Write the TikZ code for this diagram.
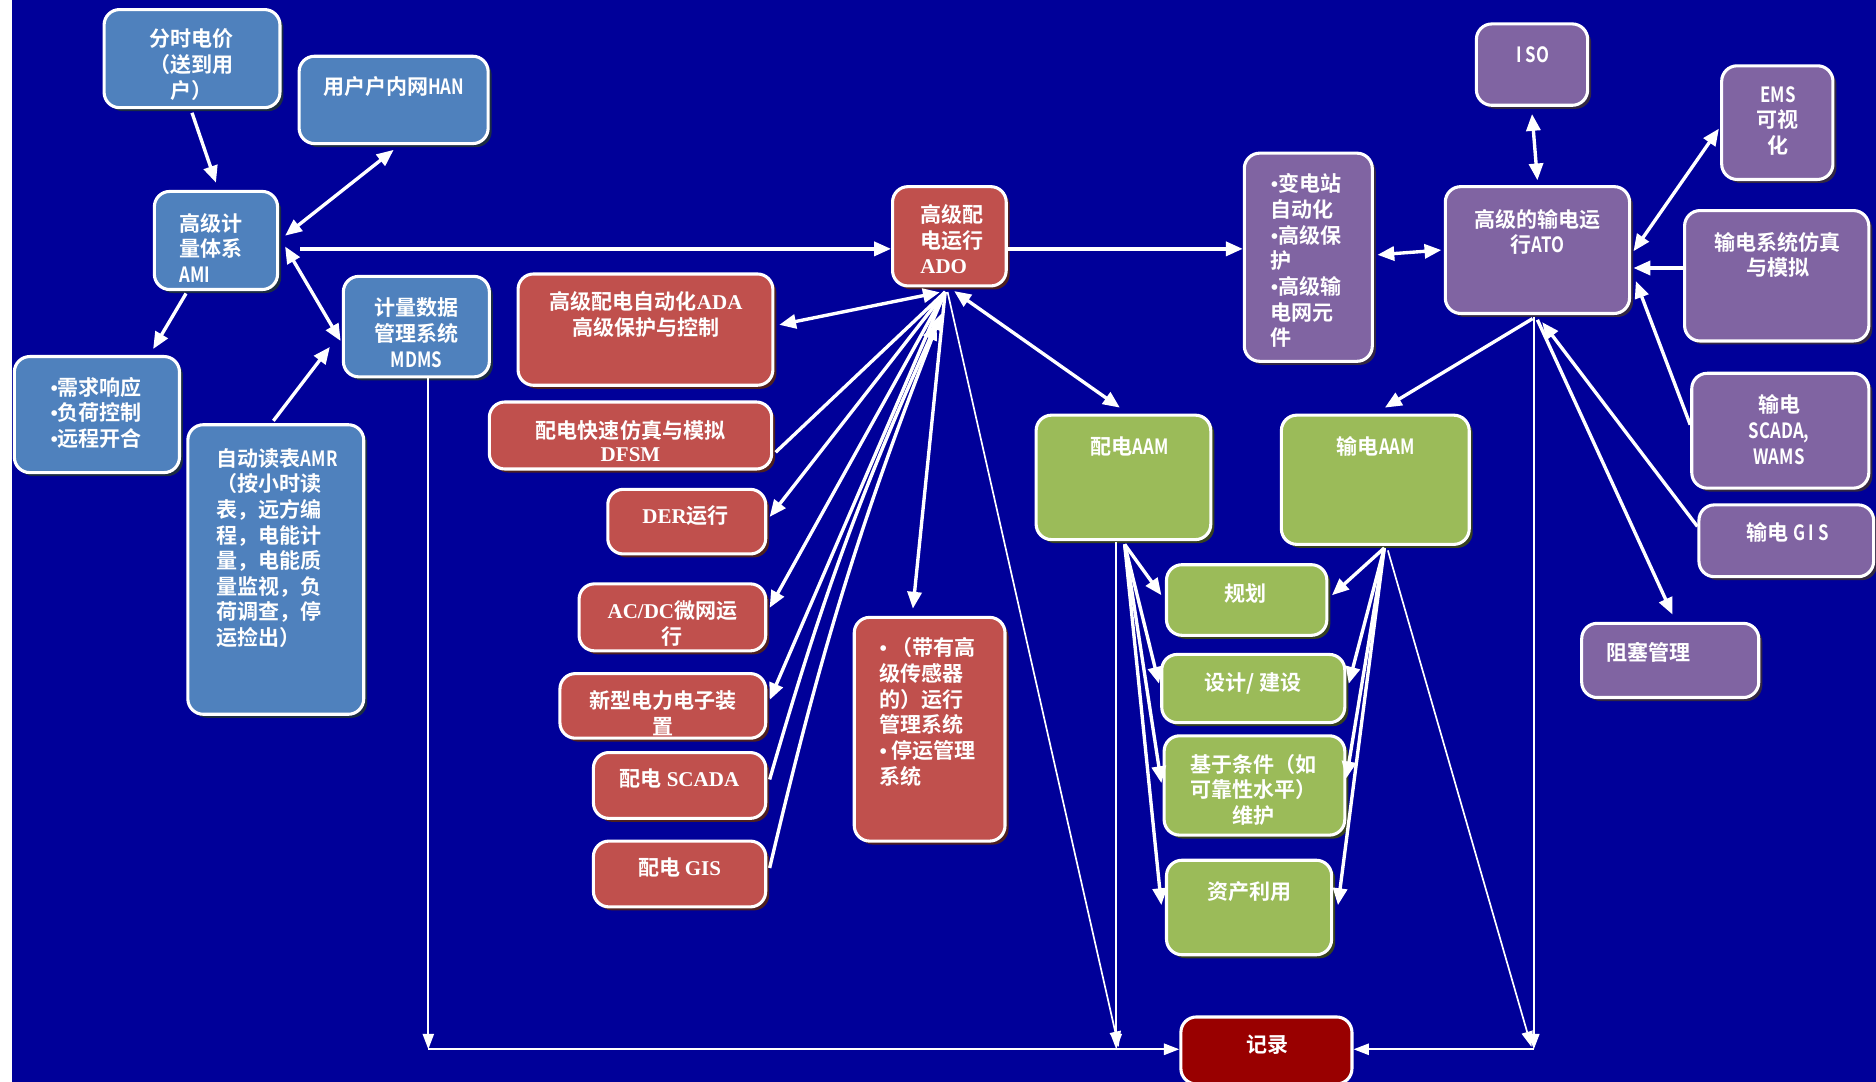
\documentclass[tikz,border=0pt]{standalone}
\usepackage{fontspec}
\setmainfont{Noto Sans CJK SC}[BoldFont={Noto Sans CJK SC Bold}]
\newfontfamily\tnr{Liberation Serif}[BoldFont={Liberation Serif Bold}]
\usepackage{graphicx}
\usetikzlibrary{arrows.meta,fit,shadows,calc}
\definecolor{navy}{RGB}{0,0,153}
\definecolor{boxblue}{RGB}{79,129,189}
\definecolor{boxred}{RGB}{192,80,77}
\definecolor{boxpurple}{RGB}{128,100,162}
\definecolor{boxgreen}{RGB}{155,187,89}
\definecolor{boxdark}{RGB}{153,0,0}
\newcommand\nar[1]{\scalebox{0.8}[1]{#1}}
\newcommand\bul{{\tnr\bfseries •}}
\newcommand\mkbox[4]{\node[#2, fit={(#3) (#4)}] (#1) {};}
\tikzset{
  boxbase/.style={draw=white, line width=2.2pt, rounded corners=11pt, inner sep=0pt},
  bluebox/.style={boxbase, fill=boxblue, drop shadow={shadow xshift=2.5pt, shadow yshift=-2.5pt, fill=boxblue!35!black, opacity=1}},
  redbox/.style={boxbase, fill=boxred, drop shadow={shadow xshift=2.5pt, shadow yshift=-2.5pt, fill=boxred!40!black, opacity=1}},
  purplebox/.style={boxbase, fill=boxpurple, drop shadow={shadow xshift=2.5pt, shadow yshift=-2.5pt, fill=boxpurple!40!black, opacity=1}},
  greenbox/.style={boxbase, fill=boxgreen, drop shadow={shadow xshift=2.5pt, shadow yshift=-2.5pt, fill=boxgreen!35!black, opacity=1}},
  darkbox/.style={boxbase, fill=boxdark},
  txt/.style={text=white, font=\bfseries\fontsize{15}{18.3}\selectfont, align=center, inner sep=0pt},
  ltxt/.style={txt, align=left, anchor=west},
  ln/.style={draw=white, line width=2.4pt},
  arr/.style={ln, -{Triangle[length=12pt,width=10pt]}},
  darr/.style={ln, {Triangle[length=12pt,width=10pt]}-{Triangle[length=12pt,width=10pt]}},
  thinln/.style={draw=white, line width=1.2pt},
  tarr/.style={thinln, -{Triangle[length=11pt,width=8pt]}},
}
\begin{document}
\begin{tikzpicture}[x=0.03cm, y=-0.03cm]
\useasboundingbox (0,0) rectangle (1568,904);
\fill[white] (0,0) rectangle (10,904);
\fill[navy] (10,0) rectangle (1568,904);

% boxes
\mkbox{tou}{bluebox}{87,8}{234,90}
\mkbox{han}{bluebox}{250,47}{408,120}
\mkbox{ami}{bluebox}{129,160}{232,242}
\mkbox{mdms}{bluebox}{287,231}{409,315}
\mkbox{dr}{bluebox}{12,298}{150,395}
\mkbox{amr}{bluebox}{157,355}{304,597}
\mkbox{ado}{redbox}{746,156}{841,239}
\mkbox{ada}{redbox}{433,229}{646,322}
\mkbox{dfsm}{redbox}{409,336}{645,392}
\mkbox{der}{redbox}{508,409}{640,463}
\mkbox{acdc}{redbox}{484,488}{640,544}
\mkbox{new}{redbox}{468,563}{640,617}
\mkbox{sc}{redbox}{496,629}{640,684}
\mkbox{gis}{redbox}{496,703}{640,758}
\mkbox{ops}{redbox}{714,516}{840,703}
\mkbox{sub}{purplebox}{1040,128}{1147,302}
\mkbox{iso}{purplebox}{1234,20}{1327,88}
\mkbox{ato}{purplebox}{1208,156}{1362,262}
\mkbox{ems}{purplebox}{1439,55}{1532,150}
\mkbox{tsim}{purplebox}{1408,176}{1562,285}
\mkbox{tscada}{purplebox}{1414,312}{1562,408}
\mkbox{tgis}{purplebox}{1420,422}{1566,482}
\mkbox{cong}{purplebox}{1322,521}{1470,583}
\mkbox{dAAM}{greenbox}{866,347}{1012,451}
\mkbox{tAAM}{greenbox}{1071,347}{1228,455}
\mkbox{plan}{greenbox}{975,472}{1109,531}
\mkbox{design}{greenbox}{971,547}{1124,604}
\mkbox{cond}{greenbox}{973,615}{1124,698}
\mkbox{asset}{greenbox}{975,719}{1113,798}
\mkbox{rec}{darkbox}{987,850}{1130,906}

% helper coordinates
\coordinate (adoF) at (790,244);
\coordinate (cL) at (358,877);
\coordinate (cM) at (933,877);
\coordinate (cR) at (1282,877);
\coordinate (hY) at (251,208);
\coordinate (dF) at (940,455);
\coordinate (tF) at (1157,458);
\coordinate (atoF) at ($(ato.south)+(-3,2)$);
\coordinate (scTip) at (783,270);
\coordinate (gisTip) at (787,262);

% connectors (left / blue)
\draw[arr] ($(tou.south)+(0,3)$) -- ($(ami.north)+(0,-6)$);
\draw[darr] ($(ami.east)+(5,-4)$) -- ($(han.south)+(0,4)$);
\draw[arr] (hY) -- (hY -| ado.west);
\draw[darr] ($(ami.east)+(5,5)$) -- ($(mdms.west)+(-1,12)$);
\draw[arr] ($(ami.south)+(-25,2)$) -- ($(dr.north)+(47,-5)$);
\draw[arr] ($(amr.north)+(-2,-2)$) -- ($(mdms.west)+(-10,17)$);
\draw[tarr] ($(mdms.south)+(10,0)$) -- (cL);
\draw[tarr, line width=1.6pt] (cL) -- (cL -| rec.west);

% ADO connectors
\draw[arr] (ado.east |- hY) -- (sub.west |- hY);
\draw[darr] ($(ado.south)+(-8,4)$) -- ($(ada.east)+(4,-4)$);
\draw[darr] ($(ado.south)+(4,3)$) -- ($(dAAM.north)+(-3,-5)$);
\draw[ln] (adoF) -- ($(dfsm.east)+(2,14)$);
\draw[arr] (adoF) -- ($(der.east)+(2,-4)$);
\draw[arr] (adoF) -- ($(acdc.east)+(2,-8)$);
\draw[arr] (adoF) -- ($(new.east)+(2,-5)$);
\draw[arr] ($(sc.east)+(2,-5)$) to[bend left=4] (scTip);
\draw[arr] ($(gis.east)+(2,-5)$) to[bend left=4] (gisTip);
\draw[arr] (adoF) -- ($(ops.north)+(-14,-6)$);
\draw[tarr] ($(adoF)+(2,0)$) -- ($(cM)+(2,-2)$);

% AAM connectors
\draw[tarr] ($(dAAM.south)+(-6,1)$) -- (cM);
\draw[arr] (dF) -- ($(plan.west)+(-3,-4)$);
\draw[arr] (dF) -- ($(design.west)+(-1,-4)$);
\draw[arr] (dF) -- ($(cond.west)+(-1,-2)$);
\draw[arr] (dF) -- ($(asset.west)+(-3,-2)$);
\draw[arr] (tF) -- ($(plan.east)+(3,-4)$);
\draw[arr] (tF) -- ($(design.east)+(2,-4)$);
\draw[arr] (tF) -- ($(cond.east)+(0,-6)$);
\draw[arr] (tF) -- ($(asset.east)+(4,-2)$);
\draw[tarr] ($(tF)+(3,2)$) -- ($(cR)+(-2,-2)$);

% ATO connectors
\draw[tarr] (atoF) -- (cR);
\draw[tarr, line width=1.6pt] (cR) -- (cR -| rec.east);
\draw[darr] ($(iso.south)+(0,6)$) -- ($(ato.north)+(0,-4)$);
\draw[darr] ($(sub.east)+(3,-2)$) -- ($(ato.west)+(-2,0)$);
\draw[darr] ($(ato.east)+(2,1)$) -- ($(ems.west)+(-1,5)$);
\draw[arr] ($(tsim.west)+(0,-6.5)$) -- ($(ato.east)+(2,15)$);
\draw[arr] ($(tscada.west)+(0,-5)$) -- ($(ato.east)+(4,26)$);
\draw[arr] ($(tgis.west)+(0,-12)$) -- ($(ato.south)+(4,6)$);
\draw[arr] ($(ato.south)+(0,4)$) -- ($(cong.north)+(2,-6)$);
\draw[arr] ($(ato.south)+(-4,3)$) -- ($(tAAM.north)+(8,-5)$);

% texts
\node[txt] (touT) at (160,54) {分时电价\\（送到用\\户）};
\node[txt] (hanT) at (329,72) {用户户内网\nar{HAN}};
\node[ltxt] (amiT) at (150,207) {高级计\\量体系\\\nar{AMI}};
\node[txt] (mdmsT) at (348,278) {计量数据\\管理系统\\\nar{MDMS}};
\node[ltxt] (drT) at (42,345) {\bul 需求响应\\\bul 负荷控制\\\bul 远程开合};
\node[ltxt] (amrT) at (181,458) {自动读表\nar{AMR}\\（按小时读\\表，远方编\\程，电能计\\量，电能质\\量监视，负\\荷调查，停\\运捡出）};
\node[ltxt] (adoT) at (769,200) {高级配\\电运行\\{\tnr\bfseries ADO}};
\node[txt] (adaT) at (540,263) {高级配电自动化{\tnr\bfseries ADA}\\高级保护与控制};
\node[txt] (dfsmT) at (527,369) {配电快速仿真与模拟\\[-2pt]{\tnr\bfseries DFSM}};
\node[txt] (derT) at (573,431) {{\tnr\bfseries DER}运行};
\node[txt] (acdcT) at (562,521) {{\tnr\bfseries AC/DC}微网运\\行};
\node[txt] (newT) at (554,596) {新型电力电子装\\置};
\node[txt] (scT) at (568,651) {配电 {\tnr\bfseries SCADA}};
\node[txt] (gisT) at (568,725) {配电 {\tnr\bfseries GIS}};
\node[ltxt] (opsT) at (735,595) {\bul\ （带有高\\级传感器\\的）运行\\管理系统\\\bul\ 停运管理\\系统};
\node[ltxt] (subT) at (1062,218) {\bul 变电站\\自动化\\\bul 高级保\\护\\\bul 高级输\\电网元\\件};
\node[txt] (isoT) at (1281,46) {\nar{I SO}};
\node[txt] (atoT) at (1285,194) {高级的输电运\\行\nar{ATO}};
\node[txt] (emsT) at (1486,101) {\nar{EMS}\\可视\\化};
\node[txt] (tsimT) at (1486,213) {输电系统仿真\\与模拟};
\node[txt] (tscadaT) at (1487,359) {输电\\\nar{SCADA,}\\\nar{WAMS}};
\node[txt] (tgisT) at (1494,445) {输电 \nar{G I S}};
\node[txt] (congT) at (1378,545) {阻塞管理};
\node[txt] (dAAMT) at (944,373) {配电\nar{AAM}};
\node[txt] (tAAMT) at (1150,373) {输电\nar{AAM}};
\node[txt] (planT) at (1041,496) {规划};
\node[txt] (designT) at (1047,571) {设计/ 建设};
\node[txt] (condT) at (1048,660) {基于条件（如\\可靠性水平）\\维护};
\node[txt] (assetT) at (1044,745) {资产利用};
\node[txt] (recT) at (1059,873) {记录};
\end{tikzpicture}
\end{document}
